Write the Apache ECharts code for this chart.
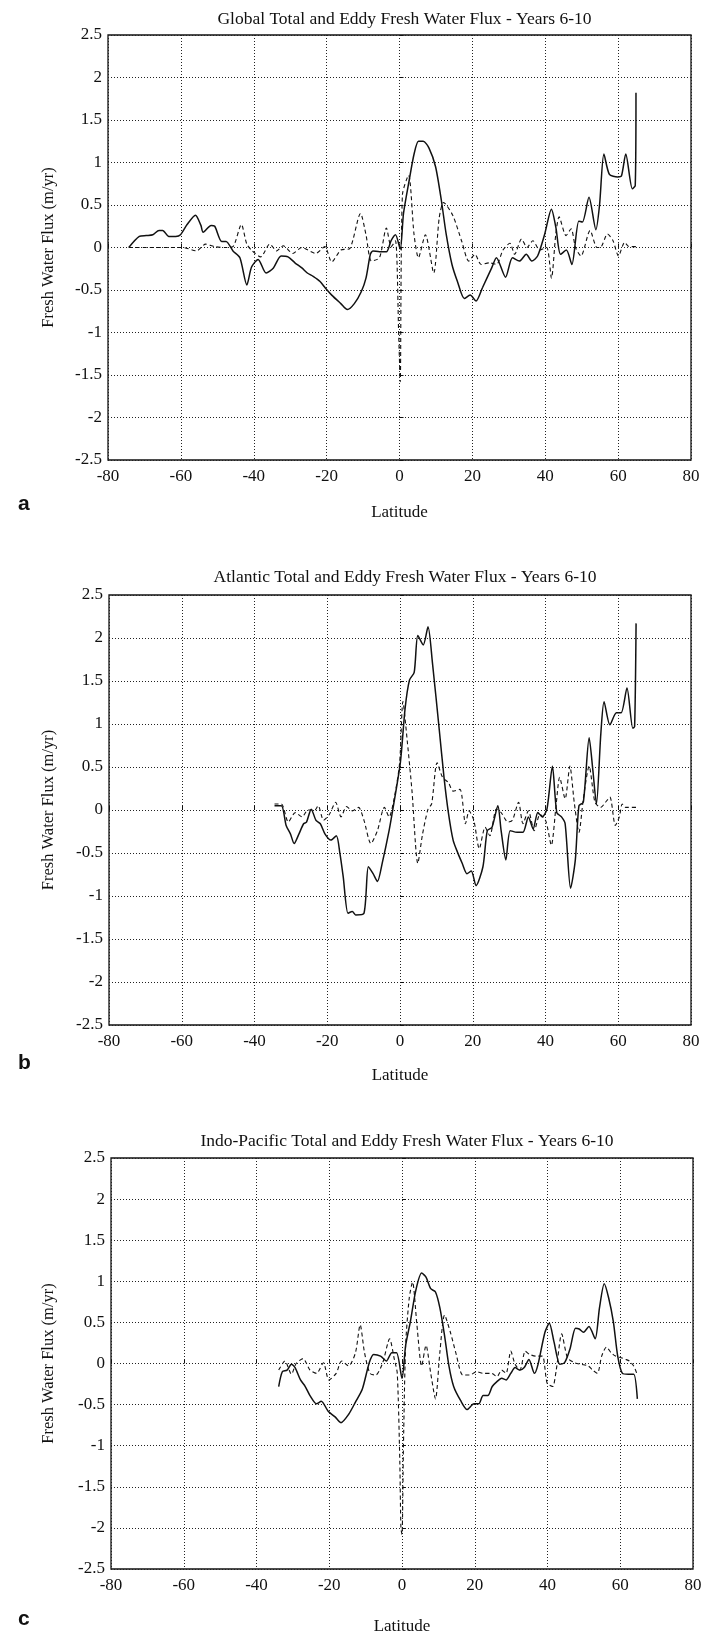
<!DOCTYPE html>
<html>
<head>
<meta charset="utf-8">
<title>Total and Eddy Fresh Water Flux - Years 6-10</title>
<script src="https://cdn.jsdelivr.net/npm/echarts@6/dist/echarts.min.js"></script>
<style>
  html, body { margin: 0; padding: 0; background: #fff; }
  #chart { width: 716px; height: 1636px; }
</style>
</head>
<body>
<div id="chart"></div>
<script>
// Latitude ticks and flux ticks shared by all three panels
const latTicks = { min: -80, max: 80, step: 20 };
const fluxTicks = { min: -2.5, max: 2.5, step: 0.5 };

const panelTitles = [
  'Global Total and Eddy Fresh Water Flux - Years 6-10',
  'Atlantic Total and Eddy Fresh Water Flux - Years 6-10',
  'Indo-Pacific Total and Eddy Fresh Water Flux - Years 6-10'
];
const panelLetters = ['a', 'b', 'c'];

// [latitude, flux m/yr] — Global
const globalTotal = [
  [-74.3, 0.0], [-71.4, 0.13], [-69.5, 0.14], [-67.7, 0.15], [-66, 0.2], [-65, 0.2],
  [-63.3, 0.13], [-61.4, 0.13], [-60.1, 0.15], [-58.3, 0.27], [-56, 0.38], [-54.5, 0.26],
  [-53.9, 0.18], [-51.7, 0.26], [-50.7, 0.25], [-48.8, 0.07], [-47.6, 0.07], [-45.7, -0.04],
  [-43.8, -0.12], [-41.9, -0.44], [-40.6, -0.23], [-38.8, -0.14], [-36.6, -0.3], [-34.6, -0.24],
  [-32.5, -0.1], [-30.6, -0.11], [-28.7, -0.18], [-26.8, -0.24], [-25.3, -0.3], [-23.7, -0.34],
  [-21.8, -0.4], [-20.3, -0.48], [-18.6, -0.56], [-16.1, -0.66], [-14.3, -0.73], [-12.4, -0.66],
  [-10.5, -0.52], [-9.2, -0.36], [-8.0, -0.08], [-7.3, -0.04], [-5.5, -0.05], [-3.6, -0.05],
  [-2.3, 0.08], [-1.1, 0.15], [0.2, -0.02], [1.1, 0.4], [2.7, 0.8], [4.0, 1.1], [5.2, 1.25],
  [6.5, 1.25], [8.1, 1.17], [9.9, 0.95], [11.5, 0.55], [12.8, 0.16], [14.4, -0.2], [15.9, -0.4],
  [17.8, -0.6], [19.4, -0.56], [21, -0.63], [22.8, -0.47], [25.3, -0.24], [26.6, -0.12],
  [29.1, -0.35], [31, -0.12], [32.9, -0.16], [34.8, -0.08], [36.3, -0.16], [37.9, -0.1],
  [39.8, 0.15], [41.7, 0.45], [42.9, 0.24], [44.2, -0.08], [45.8, -0.03], [47.3, -0.2],
  [49.2, 0.31], [50.2, 0.3], [52.0, 0.59], [53.9, 0.21], [54.9, 0.5], [56.1, 1.1], [57.6, 0.86],
  [59.9, 0.83], [60.9, 0.84], [62.1, 1.1], [63.9, 0.69], [64.7, 0.73], [64.9, 1.82]
];
const globalEddy = [
  [-74.3, 0.0], [-59.5, 0.0], [-55.7, -0.04], [-53.2, 0.04], [-50.7, 0.01], [-47.6, 0.0],
  [-45.7, 0.01], [-43.4, 0.27], [-41.9, 0.04], [-40.4, -0.04], [-38.1, -0.11], [-35.6, 0.04],
  [-33.7, -0.04], [-31.9, 0.02], [-29.3, -0.07], [-26.8, 0.0], [-23, -0.07], [-20.5, 0.01],
  [-18.6, -0.17], [-16.1, -0.03], [-13.6, -0.01], [-10.7, 0.4], [-9.2, 0.15], [-7.7, -0.16],
  [-5.5, -0.12], [-3.6, 0.23], [-2.3, 0.01], [-1.1, 0.08], [-0.2, -1.06], [0.2, -1.58],
  [0.8, 0.62], [2.5, 0.85], [4, 0.15], [5.2, -0.12], [7.1, 0.15], [9.4, -0.3], [10.9, 0.35],
  [12.1, 0.53], [14.6, 0.38], [17.1, 0.07], [19, -0.16], [20.7, -0.08], [22.4, -0.2],
  [24.7, -0.18], [26.6, -0.2], [28.4, -0.03], [30.3, 0.05], [31.6, -0.08], [33.5, 0.1],
  [35, 0.0], [36.6, 0.08], [38.5, -0.03], [40.4, 0.0], [41.7, -0.36], [42.9, 0.16],
  [43.8, 0.36], [45.7, 0.14], [47.1, 0.22], [48.3, 0.0], [49.8, -0.1], [52.3, 0.2], [54.2, 0.0],
  [55.1, 0.0], [57.1, 0.16], [58.6, 0.08], [60.1, -0.1], [61.8, 0.06], [63, 0.01], [64.9, 0.01]
];

// [latitude, flux m/yr] — Atlantic
const atlanticTotal = [
  [-34.5, 0.05], [-32.6, 0.05], [-31.3, -0.18], [-30.1, -0.28], [-29.1, -0.39], [-27.8, -0.28],
  [-26.5, -0.16], [-25.7, -0.14], [-24.4, 0.01], [-23.1, -0.12], [-21.9, -0.16], [-20.6, -0.28],
  [-19, -0.35], [-17.5, -0.3], [-16.5, -0.51], [-15.6, -0.78], [-14.3, -1.2], [-13.1, -1.18],
  [-12.2, -1.22], [-9.9, -1.2], [-8.7, -0.66], [-7.4, -0.74], [-6.2, -0.83], [-4.9, -0.62],
  [-3, -0.24], [-1.8, 0.05], [0.1, 0.55], [1.4, 1.18], [2.6, 1.51], [3.9, 1.6], [4.9, 2.03],
  [6.4, 1.92], [7.7, 2.13], [8.9, 1.72], [10.8, 0.93], [12.1, 0.38], [13.3, -0.03], [14.6, -0.35],
  [15.8, -0.49], [17.1, -0.62], [18.4, -0.74], [19.6, -0.71], [20.9, -0.88], [22.8, -0.66],
  [24, -0.24], [25.3, -0.2], [26.9, 0.05], [27.8, -0.24], [29.1, -0.58], [30.3, -0.24],
  [32.2, -0.26], [33.8, -0.26], [35.3, -0.08], [36.6, -0.22], [37.9, -0.03], [39.1, -0.08],
  [40.4, 0.01], [41.9, 0.51], [43.1, -0.03], [44.4, -0.08], [45.4, -0.16], [46.9, -0.91],
  [48.2, -0.58], [49.2, 0.05], [50.4, 0.09], [52, 0.84], [53, 0.47], [54, 0.07], [55.2, 0.88],
  [56.1, 1.26], [57.7, 0.99], [59.5, 1.13], [60.8, 1.13], [62.4, 1.42], [64, 0.95], [64.5, 0.97],
  [64.9, 2.17]
];
const atlanticEddy = [
  [-34.5, 0.07], [-32.6, 0.07], [-30.7, -0.14], [-28.8, -0.03], [-26.9, -0.08], [-25.3, 0.0],
  [-23.4, 0.0], [-22.5, 0.05], [-21, -0.12], [-19.4, -0.05], [-17.7, 0.09], [-16.2, -0.08],
  [-14.7, 0.04], [-13.1, -0.01], [-11.4, 0.03], [-9.9, -0.12], [-8, -0.39], [-6.2, -0.24],
  [-4.3, 0.03], [-3, -0.08], [-1.4, 0.18], [-0.1, 0.55], [0.8, 1.26], [2, 0.8], [3.3, 0.22],
  [4.9, -0.62], [6.2, -0.28], [7.7, 0.01], [8.7, 0.07], [10.2, 0.55], [11.7, 0.38], [13.3, 0.32],
  [14.6, 0.22], [16.5, 0.24], [18, -0.16], [19, -0.01], [20.3, -0.12], [21.8, -0.45], [23.4, -0.2],
  [24.7, -0.3], [26.5, 0.01], [27.8, -0.03], [29.7, -0.14], [30.9, -0.12], [32.6, 0.09],
  [33.8, -0.16], [35.3, -0.01], [36.9, -0.24], [38.5, -0.05], [40.1, -0.13], [41.6, -0.41],
  [42.9, 0.05], [43.9, 0.38], [45.4, 0.13], [46.7, 0.51], [47.9, 0.09], [49.2, -0.26],
  [50.4, 0.13], [52, 0.51], [53.6, 0.09], [55.2, 0.03], [56.5, 0.09], [57.7, 0.15], [59.2, -0.18],
  [60.3, -0.08], [61.1, 0.07], [62, 0.03], [64.9, 0.03]
];

// [latitude, flux m/yr] — Indo-Pacific
const indoPacificTotal = [
  [-33.9, -0.28], [-32.9, -0.1], [-31.6, -0.08], [-30.4, -0.01], [-29.4, -0.05], [-27.9, -0.2],
  [-26.6, -0.28], [-25.3, -0.39], [-23.5, -0.49], [-22.2, -0.46], [-20.3, -0.58], [-18.4, -0.65],
  [-16.8, -0.72], [-14.7, -0.62], [-12.8, -0.47], [-10.9, -0.31], [-9, 0.01], [-7.8, 0.11],
  [-5.9, 0.09], [-4.3, 0.03], [-2.8, 0.13], [-1.5, 0.13], [0, -0.18], [1, 0.22], [2.3, 0.51],
  [3.8, 0.89], [5.4, 1.1], [6.6, 1.05], [7.9, 0.91], [9.2, 0.87], [10.4, 0.68], [11.7, 0.34],
  [12.9, -0.03], [14.2, -0.28], [16.1, -0.45], [17.9, -0.56], [19.8, -0.49], [21.1, -0.49],
  [22.3, -0.39], [23.6, -0.39], [24.8, -0.28], [26.1, -0.22], [27.4, -0.18], [28.6, -0.2],
  [29.9, -0.12], [31.1, -0.05], [32.4, -0.08], [33.6, -0.05], [34.9, 0.05], [36.4, -0.12],
  [37.4, -0.01], [39.3, 0.38], [40.5, 0.49], [41.8, 0.26], [43.4, -0.01], [44.7, 0.01],
  [46.2, 0.18], [47.7, 0.43], [48.7, 0.42], [49.9, 0.38], [51.4, 0.45], [53.1, 0.3], [54.3, 0.68],
  [55.6, 0.97], [56.8, 0.8], [58.1, 0.51], [59.3, 0.09], [60.6, -0.12], [62.2, -0.13],
  [63.7, -0.13], [64.7, -0.43]
];
const indoPacificEddy = [
  [-33.9, -0.08], [-32.2, 0.03], [-30.4, -0.13], [-29.1, 0.0], [-27.2, 0.06], [-25.3, -0.08],
  [-23.5, -0.12], [-21.6, 0.01], [-20.1, -0.2], [-18.1, -0.12], [-16.6, 0.03], [-14.7, -0.03],
  [-12.8, 0.13], [-11.5, 0.47], [-10.3, 0.13], [-8.8, -0.12], [-7.2, -0.14], [-5.3, 0.01],
  [-3.4, 0.3], [-2.1, 0.05], [-1.3, -0.12], [-0.6, -1.2], [-0.3, -2.0], [0, -2.08], [0.4, -1.0],
  [1, 0.22], [2, 0.8], [2.9, 0.99], [4.1, 0.47], [5.4, -0.03], [6.6, 0.22], [7.9, -0.12],
  [9.2, -0.43], [10.4, 0.13], [11.7, 0.59], [13.3, 0.38], [14.8, 0.13], [16.7, -0.14],
  [18.6, -0.14], [20.5, -0.1], [22.3, -0.12], [24.6, -0.12], [26.1, -0.16], [27.4, -0.08],
  [28.6, -0.12], [29.9, 0.15], [31.1, -0.01], [32.4, -0.08], [33.9, 0.15], [35.1, 0.11],
  [36.8, 0.09], [38.6, 0.09], [39.9, -0.24], [41.4, -0.28], [42.4, -0.08], [43.9, 0.36],
  [45.5, 0.07], [47.4, 0.01], [49.3, -0.01], [51.2, -0.03], [52.4, -0.08], [53.7, -0.12],
  [54.9, 0.09], [56.2, 0.2], [57.5, 0.13], [58.7, 0.09], [60.2, 0.07], [61.5, 0.05], [62.5, 0.03],
  [63.7, -0.03], [64.7, -0.14]
];

const totals = [globalTotal, atlanticTotal, indoPacificTotal];
const eddies = [globalEddy, atlanticEddy, indoPacificEddy];

// Panel placement on the page
const panels = [
  { left: 108, top: 35, width: 583, height: 425, titleY: 5, letterY: 494, nameGap: 44 },
  { left: 109, top: 595, width: 582, height: 430, titleY: 563, letterY: 1053, nameGap: 42 },
  { left: 111, top: 1158, width: 582, height: 420, titleY: 1127, letterY: 1609, nameGap: 49 }
];

const serif = '"Liberation Serif", "Times New Roman", serif';
const ink = '#111';

const grid = [], xAxis = [], yAxis = [], title = [], series = [], graphic = [];

panels.forEach((p, i) => {
  grid.push({
    left: p.left, top: p.top, width: p.width, height: p.height,
    show: true, borderColor: ink, borderWidth: 1.3, backgroundColor: 'transparent'
  });
  title.push({
    text: panelTitles[i],
    left: p.left + p.width / 2, top: p.titleY, textAlign: 'center',
    textStyle: { fontFamily: serif, fontSize: 17.5, fontWeight: 'normal', color: ink }
  });
  xAxis.push({
    type: 'value', gridIndex: i,
    min: latTicks.min, max: latTicks.max, interval: latTicks.step,
    name: 'Latitude', nameLocation: 'middle', nameGap: p.nameGap,
    nameTextStyle: { fontFamily: serif, fontSize: 17, color: ink },
    axisLine: { show: false },
    axisTick: { show: true, inside: true, length: 4, lineStyle: { color: ink, width: 1 } },
    axisLabel: { fontFamily: serif, fontSize: 17, color: ink, margin: 8 },
    splitLine: { show: true, lineStyle: { color: '#222', width: 1, type: [1, 2] } }
  });
  yAxis.push({
    type: 'value', gridIndex: i,
    min: fluxTicks.min, max: fluxTicks.max, interval: fluxTicks.step,
    name: 'Fresh Water Flux (m/yr)', nameLocation: 'middle', nameGap: p.left - 57,
    nameRotate: 90,
    nameTextStyle: { fontFamily: serif, fontSize: 16.5, color: ink },
    axisLine: { show: false },
    axisTick: { show: true, inside: true, length: 4, lineStyle: { color: ink, width: 1 } },
    axisLabel: { fontFamily: serif, fontSize: 17, color: ink, margin: 6 },
    splitLine: { show: true, lineStyle: { color: '#222', width: 1, type: [1, 2] } }
  });
  series.push({
    name: 'Total', type: 'line', xAxisIndex: i, yAxisIndex: i,
    data: totals[i], showSymbol: false, smooth: 0.25, animation: false,
    lineStyle: { color: ink, width: 1.5, type: 'solid' }, z: 3
  });
  series.push({
    name: 'Eddy', type: 'line', xAxisIndex: i, yAxisIndex: i,
    data: eddies[i], showSymbol: false, smooth: 0.25, animation: false,
    lineStyle: { color: ink, width: 1.1, type: [4, 3] }, z: 2
  });
  graphic.push({
    type: 'text', left: 18, top: p.letterY,
    style: { text: panelLetters[i], font: 'bold 21px "Liberation Sans", Arial, sans-serif', fill: ink }
  });
});

const chart = echarts.init(document.getElementById('chart'), null, { renderer: 'canvas' });
chart.setOption({
  backgroundColor: '#fff',
  animation: false,
  title, grid, xAxis, yAxis, series, graphic
});
</script>
</body>
</html>
